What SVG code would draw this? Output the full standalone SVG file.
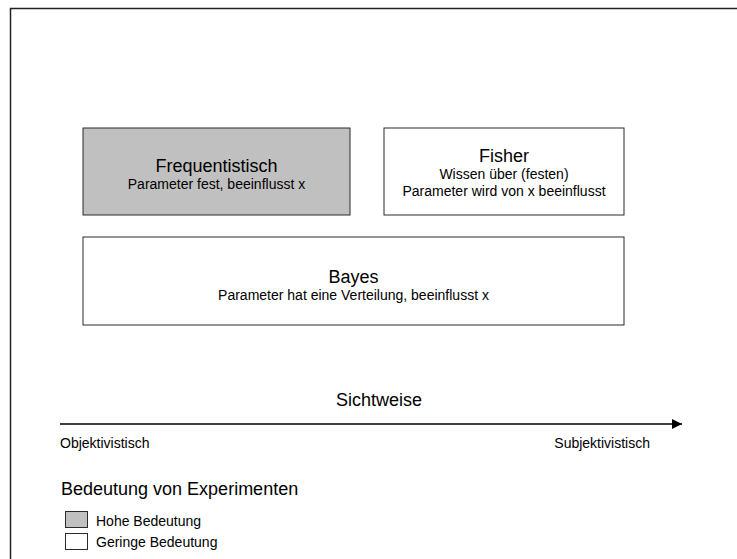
<svg xmlns="http://www.w3.org/2000/svg" width="737" height="559" viewBox="0 0 737 559">
<defs>
<style>
.box{stroke:#2a2a2a;stroke-width:1}
.hi{fill:#c0c0c0}
.lo{fill:#ffffff}
text{font-family:"Liberation Sans",Arial,sans-serif;fill:#000}
.t{font-size:18px;text-anchor:middle}
.s{font-size:14px;text-anchor:middle}
.l{font-size:14px}
.lt{font-size:18px}
</style>
<marker id="ah" markerWidth="10" markerHeight="10" refX="10" refY="5" orient="auto" markerUnits="userSpaceOnUse">
<path d="M0,0 L10,5 L0,10 Z" fill="#000"/>
</marker>
</defs>
<rect x="0" y="0" width="737" height="559" fill="#fff"/>
<path d="M10.5,559 L10.5,8.5 L737,8.5" fill="none" stroke="#222" stroke-width="1.5"/>
<g id="frequentistisch">
<rect class="box hi" x="83" y="128" width="267" height="87"/>
<text class="t" x="216.5" y="172">Frequentistisch</text>
<text class="s" x="216.5" y="189">Parameter fest, beeinflusst x</text>
</g>
<g id="fisher">
<rect class="box lo" x="384" y="128" width="240" height="87"/>
<text class="t" x="504" y="162">Fisher</text>
<text class="s" x="504" y="179">Wissen über (festen)</text>
<text class="s" x="504" y="196">Parameter wird von x beeinflusst</text>
</g>
<g id="bayes">
<rect class="box lo" x="83" y="237" width="541" height="88"/>
<text class="t" x="353.5" y="283">Bayes</text>
<text class="s" x="353.5" y="300">Parameter hat eine Verteilung, beeinflusst x</text>
</g>
<g id="connectors">
<line x1="60" y1="424" x2="682" y2="424" stroke="#000" stroke-width="1.5" marker-end="url(#ah)"/>
</g>
<g id="axis-labels">
<text class="t" x="379" y="406">Sichtweise</text>
<text class="l" x="60" y="448">Objektivistisch</text>
<text class="l" x="650" y="448" text-anchor="end">Subjektivistisch</text>
</g>
<g id="legend">
<text class="lt" x="61" y="495">Bedeutung von Experimenten</text>
<rect class="box hi" x="65.5" y="511.5" width="22" height="16"/>
<text class="l" x="96" y="526">Hohe Bedeutung</text>
<rect class="box lo" x="65.5" y="533.5" width="22" height="16"/>
<text class="l" x="96" y="547">Geringe Bedeutung</text>
</g>
</svg>
